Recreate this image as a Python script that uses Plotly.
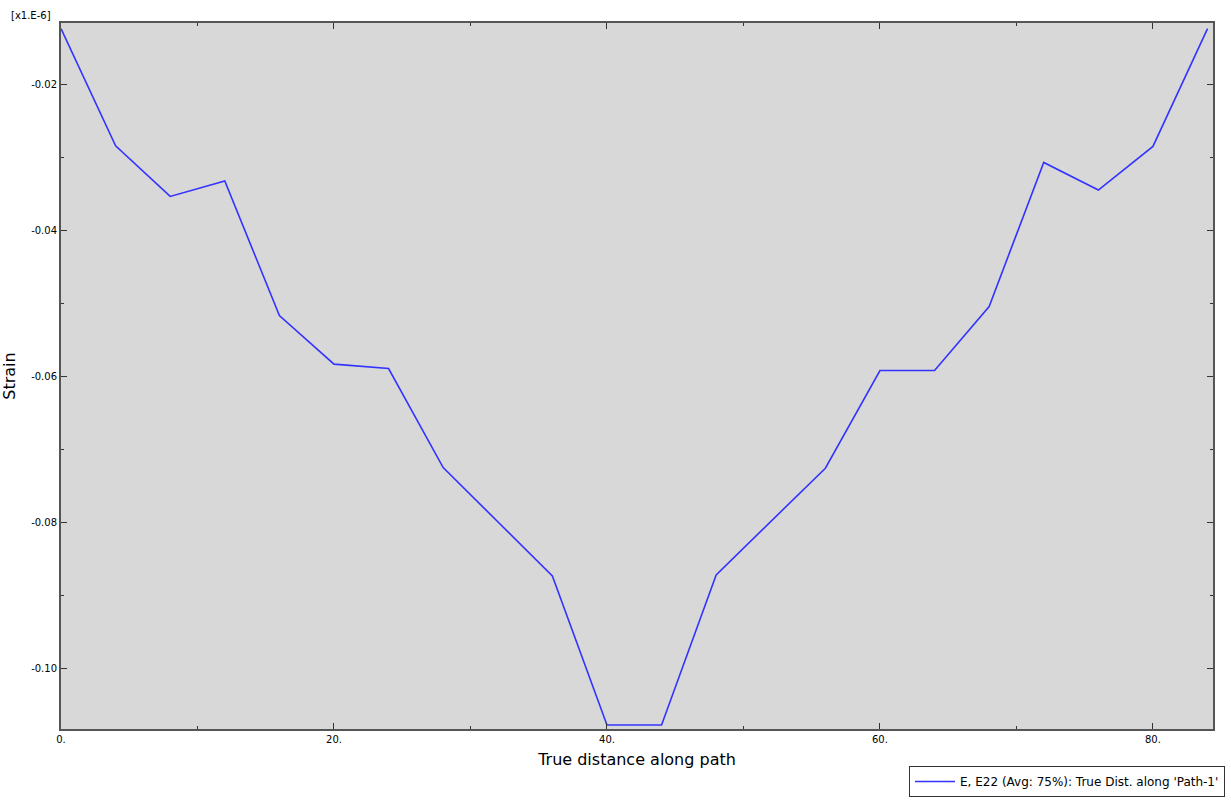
import plotly.graph_objects as go

# Data
distance = [0, 4, 8, 12, 16, 20, 24, 28, 32, 36, 40, 44, 48, 52, 56, 60, 64, 68, 72, 76, 80, 84]
strain = [-0.01233, -0.02836, -0.03530, -0.03319, -0.05160, -0.05826, -0.05886, -0.07242,
          -0.07984, -0.08726, -0.10767, -0.10767, -0.08712, -0.07979, -0.07251, -0.05914,
          -0.05914, -0.05037, -0.03064, -0.03442, -0.02845, -0.01233]

x_tick_vals = [0, 20, 40, 60, 80]
x_tick_text = ["0.", "20.", "40.", "60.", "80."]
y_tick_vals = [-0.02, -0.04, -0.06, -0.08, -0.10]
y_tick_text = ["-0.02", "-0.04", "-0.06", "-0.08", "-0.10"]

series_name = "E, E22 (Avg: 75%): True Dist. along 'Path-1'"
x_title = "True distance along path"
y_title = "Strain"
multiplier = "[x1.E-6]"

tick_font = dict(family="DejaVu Sans", size=10, color="#000000")
axis_color = "#555555"

fig = go.Figure()
fig.add_trace(go.Scatter(
    x=distance, y=strain, mode="lines", name=series_name,
    line=dict(color="#3333ff", width=1.6),
))

fig.update_layout(
    width=1231, height=801,
    margin=dict(l=61, r=18, t=23, b=72, autoexpand=False),
    paper_bgcolor="#ffffff",
    plot_bgcolor="#d8d8d8",
    showlegend=True,
    legend=dict(
        x=1225 / 1231, xanchor="right", xref="container",
        y=4 / 801, yanchor="bottom", yref="container",
        bgcolor="#ffffff", bordercolor="#333333", borderwidth=1,
        font=dict(family="DejaVu Sans", size=12, color="#000000"),
        itemwidth=40,
    ),
    xaxis=dict(
        range=[0, 84.4], showgrid=False, zeroline=False, automargin=False,
        tickmode="array", tickvals=x_tick_vals, ticktext=x_tick_text,
        ticks="inside", ticklen=6, tickwidth=1, tickcolor="#333333",
        showline=True, linecolor=axis_color, linewidth=2, mirror="allticks",
        tickfont=tick_font,
        minor=dict(ticks="inside", ticklen=3, tickcolor="#333333", dtick=10, tick0=0),
        title=dict(text=x_title, font=dict(family="DejaVu Sans", size=16, color="#000000"), standoff=10),
    ),
    yaxis=dict(
        range=[-0.10822, -0.01155], showgrid=False, zeroline=False, automargin=False,
        tickmode="array", tickvals=y_tick_vals, ticktext=y_tick_text,
        ticks="inside", ticklen=6, tickwidth=1, tickcolor="#333333",
        showline=True, linecolor=axis_color, linewidth=2, mirror="allticks",
        tickfont=tick_font,
        minor=dict(ticks="inside", ticklen=3, tickcolor="#333333", dtick=0.01, tick0=0),
        title=dict(text=y_title, font=dict(family="DejaVu Sans", size=16, color="#000000"), standoff=12),
    ),
    annotations=[dict(
        text=multiplier, xref="paper", yref="paper", x=-0.045, y=1.0, xanchor="left", yanchor="bottom",
        showarrow=False, font=dict(family="DejaVu Sans", size=10, color="#000000"),
    )],
)

fig.write_html("out.html")
